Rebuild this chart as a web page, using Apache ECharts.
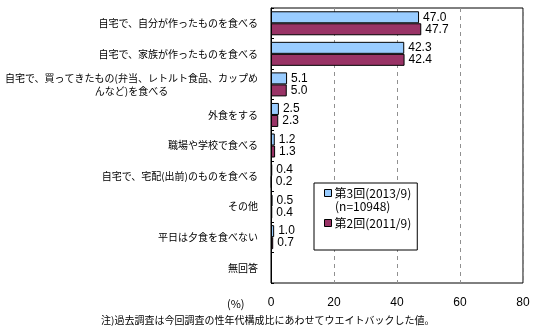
<!DOCTYPE html>
<html>
<head>
<meta charset="utf-8">
<script src="https://cdn.jsdelivr.net/npm/echarts@6/dist/echarts.min.js"></script>
<style>
  html, body { margin: 0; padding: 0; background: #fff; }
  #chart { width: 538px; height: 334px; }
</style>
</head>
<body>
<div id="chart"></div>
<script>
// 平日の夕食のとり方（複数回の調査比較）
const categories = [
  '自宅で、自分が作ったものを食べる',
  '自宅で、家族が作ったものを食べる',
  '自宅で、買ってきたもの(弁当、レトルト食品、カップめ\nんなど)を食べる',
  '外食をする',
  '職場や学校で食べる',
  '自宅で、宅配(出前)のものを食べる',
  'その他',
  '平日は夕食を食べない',
  '無回答'
];
const survey3Name = '第3回(2013/9)';
const survey3Note = '(n=10948)';
const survey2Name = '第2回(2011/9)';
const survey3Values = [47.0, 42.3, 5.1, 2.5, 1.2, 0.4, 0.5, 1.0, null];
const survey2Values = [47.7, 42.4, 5.0, 2.3, 1.3, 0.2, 0.4, 0.7, null];
const xTicks = [0, 20, 40, 60, 80];
const unitText = '(%)';
const footNote = '注)過去調査は今回調査の性年代構成比にあわせてウエイトバックした値。';

const jpFont = '"Noto Sans CJK JP", sans-serif';
const numFont = '"Liberation Sans Narrow", "Liberation Sans", sans-serif';

const chart = echarts.init(document.getElementById('chart'), null, { renderer: 'canvas' });

const valueLabel = {
  show: true,
  position: 'right',
  distance: 4,
  color: '#000',
  fontFamily: numFont,
  fontSize: 12,
  formatter: p => (p.value == null ? '' : Number(p.value).toFixed(1))
};

chart.setOption({
  animation: false,
  backgroundColor: '#fff',
  textStyle: { fontFamily: jpFont },
  grid: {
    left: 271, right: 15, top: 8, bottom: 51, containLabel: false,
    show: true, borderColor: '#000', borderWidth: 1, backgroundColor: 'transparent'
  },
  xAxis: {
    type: 'value',
    min: xTicks[0],
    max: xTicks[xTicks.length - 1],
    interval: xTicks[1] - xTicks[0],
    axisLine: { show: false },
    axisTick: { show: false },
    axisLabel: { color: '#000', fontFamily: numFont, fontSize: 12, margin: 14 },
    splitLine: { show: true, lineStyle: { color: '#909090', type: [4, 4], width: 1 } }
  },
  yAxis: {
    type: 'category',
    inverse: true,
    data: categories,
    axisLine: { show: true, lineStyle: { color: '#000', width: 1 } },
    axisTick: { show: true, inside: true, length: 3, lineStyle: { color: '#000' } },
    axisLabel: {
      color: '#000',
      fontSize: 10,
      margin: 13,
      lineHeight: 13,
      formatter: v => v.split('\n').map(s => '{c|' + s + '}').join('\n'),
      rich: { c: { align: 'center', fontSize: 10, fontFamily: jpFont, color: '#000', lineHeight: 13 } }
    }
  },
  legend: {
    orient: 'vertical',
    left: 314,
    top: 183,
    padding: [4, 6, 21, 10],
    itemGap: 18,
    itemWidth: 7,
    itemHeight: 7,
    icon: 'rect',
    backgroundColor: '#fff',
    borderColor: '#000',
    borderWidth: 1,
    borderRadius: 0,
    itemStyle: { borderColor: '#000', borderWidth: 1 },
    textStyle: { color: '#000', fontSize: 12, fontFamily: jpFont, padding: [0, 0, 0, -2] },
    data: [survey3Name, survey2Name]
  },
  graphic: [
    {
      type: 'text', left: 335, top: 200, z: 100,
      style: { text: survey3Note, fill: '#000', font: '12px ' + jpFont }
    },
    {
      type: 'text', left: 227, top: 298,
      style: { text: unitText, fill: '#000', font: '11px ' + jpFont }
    },
    {
      type: 'text', left: 101, top: 315,
      style: { text: footNote, fill: '#000', font: '10px ' + jpFont }
    }
  ],
  series: [
    {
      name: survey3Name,
      type: 'bar',
      data: survey3Values,
      barWidth: 12,
      barGap: '0%',
      itemStyle: { color: '#99CCFF', borderColor: '#000', borderWidth: 1 },
      label: valueLabel
    },
    {
      name: survey2Name,
      type: 'bar',
      data: survey2Values,
      barWidth: 12,
      barGap: '0%',
      itemStyle: { color: '#993366', borderColor: '#000', borderWidth: 1 },
      label: valueLabel
    }
  ]
});
</script>
</body>
</html>
